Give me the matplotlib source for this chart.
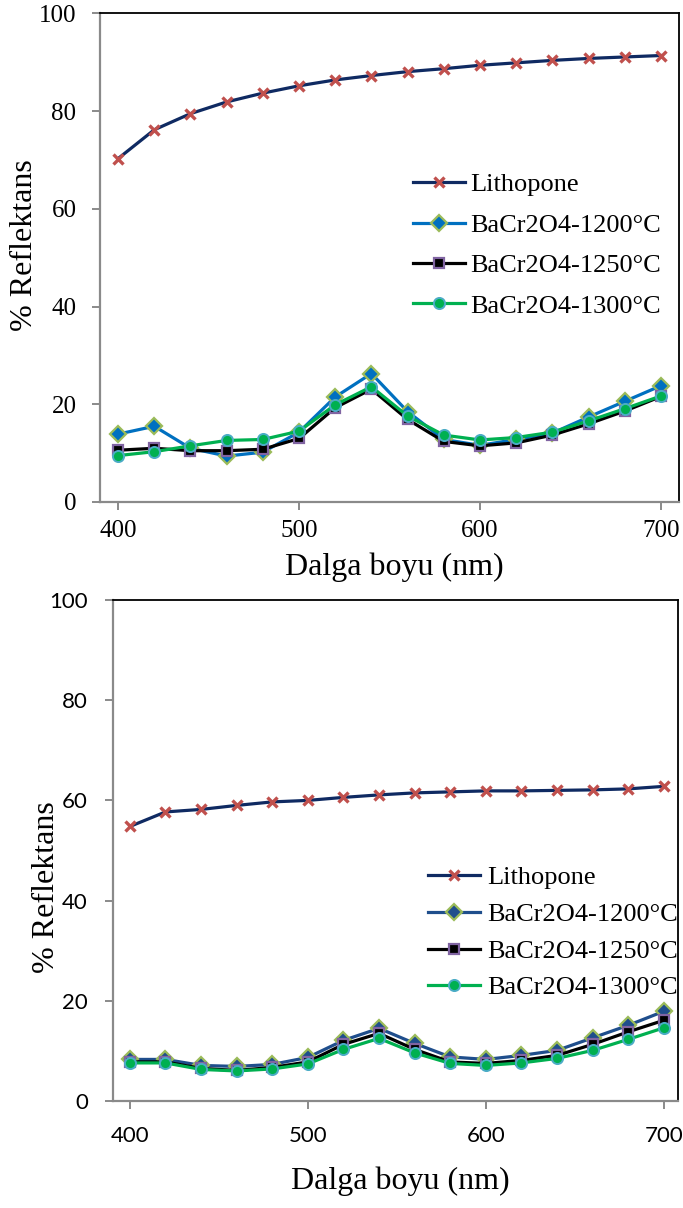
import matplotlib
matplotlib.use("Agg")
import matplotlib.pyplot as plt

# Wavelengths (nm)
wavelength = [400, 420, 440, 460, 480, 500, 520, 540, 560, 580, 600, 620, 640, 660, 680, 700]

series_names = ["Lithopone", "BaCr2O4-1200°C", "BaCr2O4-1250°C", "BaCr2O4-1300°C"]

# Upper panel reflectance (%)
top_lithopone = [70.3, 76.2, 79.5, 81.9, 83.7, 85.2, 86.4, 87.3, 88.1, 88.7, 89.4, 89.9, 90.4, 90.8, 91.1, 91.4]
top_1200 = [13.9, 15.5, 11.0, 9.4, 10.2, 14.3, 21.5, 26.3, 18.5, 12.8, 11.6, 12.8, 14.1, 17.4, 20.6, 23.8]
top_1250 = [10.6, 11.0, 10.5, 10.5, 10.8, 13.0, 19.3, 23.1, 16.9, 12.4, 11.5, 12.1, 13.7, 16.0, 18.6, 21.6]
top_1300 = [9.5, 10.3, 11.5, 12.6, 12.8, 14.5, 19.9, 23.6, 17.6, 13.7, 12.7, 13.2, 14.3, 16.6, 19.1, 21.7]

# Lower panel reflectance (%)
bot_lithopone = [54.8, 57.7, 58.2, 59.0, 59.7, 60.0, 60.6, 61.1, 61.5, 61.7, 61.9, 61.9, 62.0, 62.1, 62.3, 62.8]
bot_1200 = [8.3, 8.3, 7.1, 6.9, 7.3, 8.7, 12.1, 14.5, 11.5, 8.8, 8.3, 9.1, 10.1, 12.6, 15.1, 17.9]
bot_1250 = [7.8, 7.8, 6.5, 6.1, 6.7, 7.8, 11.3, 13.5, 10.3, 7.8, 7.5, 8.1, 9.1, 11.3, 13.8, 16.1]
bot_1300 = [7.6, 7.6, 6.3, 6.0, 6.4, 7.4, 10.3, 12.5, 9.6, 7.5, 7.1, 7.6, 8.5, 10.1, 12.3, 14.6]

x_ticks = [400, 500, 600, 700]
y_ticks = [0, 20, 40, 60, 80, 100]

SERIF = "Liberation Serif"
SANS = "Lato"

W, H = 683, 1208
fig = plt.figure(figsize=(W / 100, H / 100), dpi=100)


def px_axes(left, right, top, bottom):
    return fig.add_axes([left / W, 1 - bottom / H, (right - left) / W, (bottom - top) / H])


def style_series(blue_line):
    return [
        dict(color="#0F2A62", lw=2.3, marker="x", ms=6.5, mec="#C0504D", mew=2.4),
        dict(color=blue_line, lw=2.3, marker="D", ms=8.5, mfc=blue_line, mec="#9BBB59", mew=1.6),
        dict(color="black", lw=2.3, marker="s", ms=7.5, mfc="black", mec="#8064A2", mew=1.6),
        dict(color="#00B050", lw=2.3, marker="o", ms=8, mfc="#00B050", mec="#4BACC6", mew=1.4),
    ]


def panel(ax, data, blue_line, xlim, tick_font, tick_size, ypad, xpad):
    styles = style_series(blue_line)
    handles = []
    for vals, name, st in zip(data, series_names, styles):
        (h,) = ax.plot(wavelength, vals, label=name, **st)
        handles.append(h)
    ax.set_xlim(*xlim)
    ax.set_ylim(0, 100)
    ax.set_xticks(x_ticks)
    ax.set_yticks(y_ticks)
    for side in ("left", "bottom"):
        ax.spines[side].set_color("#8A8A8A")
        ax.spines[side].set_linewidth(1.6)
    for side in ("top", "right"):
        ax.spines[side].set_color("black")
        ax.spines[side].set_linewidth(1.3)
    ax.tick_params(axis="both", direction="out", length=6, width=1.4, color="#8A8A8A",
                   labelsize=tick_size)
    ax.tick_params(axis="y", pad=ypad)
    ax.tick_params(axis="x", pad=xpad)
    for lab in ax.get_xticklabels() + ax.get_yticklabels():
        lab.set_fontfamily(tick_font)
    return handles


# Upper panel
ax1 = px_axes(100, 679, 13.5, 502)
h1 = panel(ax1, [top_lithopone, top_1200, top_1250, top_1300], "#0070C0",
           (390, 710), SERIF, 18, 11, 7)
ax1.legend(h1, series_names, loc="upper left", bbox_to_anchor=(413 / W, 1 - 173 / H),
           bbox_transform=fig.transFigure, frameon=False, borderpad=0, borderaxespad=0,
           handlelength=1.97, handletextpad=0.2, labelspacing=0.64,
           prop={"family": SERIF, "size": 19})
fig.text(25 / W, 1 - 245 / H, "% Reflektans", rotation=90, ha="center", va="center",
         family=SERIF, fontsize=23)
fig.text(394 / W, 1 - 567 / H, "Dalga boyu (nm)", ha="center", va="center",
         family=SERIF, fontsize=23)

# Lower panel
ax2 = px_axes(113, 678, 600, 1101)
h2 = panel(ax2, [bot_lithopone, bot_1200, bot_1250, bot_1300], "#1F4E8C",
           (390.5, 708), SANS, 16, 12, 12)
ax2.legend(h2, series_names, loc="upper left", bbox_to_anchor=(428 / W, 1 - 866 / H),
           bbox_transform=fig.transFigure, frameon=False, borderpad=0, borderaxespad=0,
           handlelength=1.97, handletextpad=0.26, labelspacing=0.5,
           prop={"family": SERIF, "size": 19})
fig.text(47 / W, 1 - 887 / H, "% Reflektans", rotation=90, ha="center", va="center",
         family=SERIF, fontsize=23)
fig.text(400 / W, 1 - 1181 / H, "Dalga boyu (nm)", ha="center", va="center",
         family=SERIF, fontsize=23)

fig.savefig("out.png", dpi=100, facecolor="white")
